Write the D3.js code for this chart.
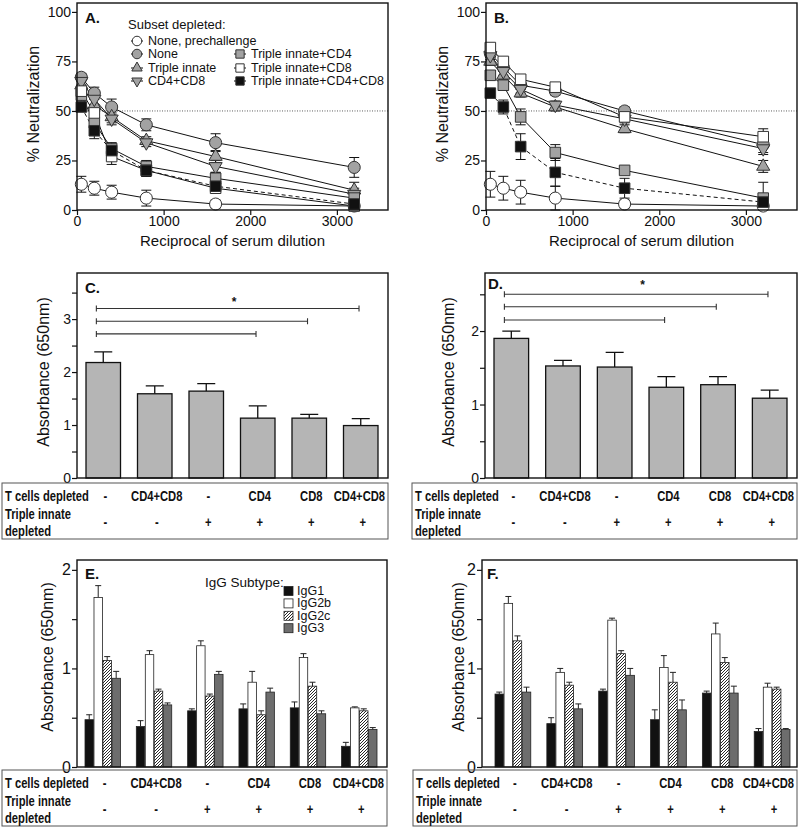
<!DOCTYPE html>
<html>
<head>
<meta charset="utf-8">
<script src="https://cdn.jsdelivr.net/npm/d3@7"></script>
<style>
  body { margin: 0; background: #fff; }
  svg { font-family: "Liberation Sans", Arial, sans-serif; }
  .tbl { font-family: "Liberation Sans", Arial, sans-serif; font-weight: bold; }
</style>
</head>
<body>
<div id="chart"></div>
<script>
// ---- data ----
const dilutions = [50, 200, 400, 800, 1600, 3200];
const seriesNames = ["None, prechallenge", "None", "Triple innate", "CD4+CD8",
                     "Triple innate+CD4", "Triple innate+CD8", "Triple innate+CD4+CD8"];

// panel A: % neutralization (mean, error)
const neutAMean = [
  [13, 11, 9, 6, 3, 2],
  [67, 59, 52, 43, 34, 21.5],
  [63, 53, 47, 35, 27, 10],
  [65, 56, 46, 34, 22, 8],
  [58, 44, 31, 22, 16, 6],
  [60, 49, 27, 20, 11, 2],
  [52, 40, 30, 20, 12, 3]
];
const neutAErr = [
  [4, 3.5, 3.5, 4, 2, 1],
  [2, 3, 4, 3, 4.5, 5],
  [3, 3, 3, 2, 3, 4],
  [3, 3, 3, 2, 3, 3],
  [3, 4, 3, 3, 3, 3],
  [3, 4, 4, 3, 2, 1],
  [2, 4, 3, 3, 2, 1]
];
// panel B
const neutBMean = [
  [13, 11, 9, 6, 3, 2],
  [79, 72, 63, 60, 50, 33],
  [75, 68, 59, 52, 41, 22],
  [78, 70, 61, 53, 46, 31],
  [68, 63, 47, 29, 20, 6],
  [82, 75, 66, 62, 47, 37],
  [59, 52, 32, 19, 11, 4]
];
const neutBErr = [
  [6.5, 6, 6, 6, 2, 1],
  [2, 2, 2, 2, 2, 4],
  [2, 2, 2, 2, 2, 3],
  [2, 2, 2, 2, 2, 3],
  [2, 2, 4, 4, 2, 8],
  [2, 2, 2, 2, 2, 4],
  [2, 3.5, 6.5, 7, 5, 2]
];

// groups (table rows)
const tCellsDepleted = ["-", "CD4+CD8", "-", "CD4", "CD8", "CD4+CD8"];
const innateDepleted = ["-", "-", "+", "+", "+", "+"];

// panels C, D: total absorbance
const absC = [2.18, 1.59, 1.64, 1.13, 1.13, 0.99];
const absCErr = [0.2, 0.15, 0.14, 0.23, 0.07, 0.13];
const absD = [1.9, 1.525, 1.51, 1.235, 1.27, 1.086];
const absDErr = [0.1, 0.075, 0.2, 0.145, 0.11, 0.11];
const sigTargets = [3, 4, 5];
const sigLevelsC = [2.72, 2.96, 3.2];
const sigLevelsD = [2.15, 2.33, 2.5];

// panels E, F: IgG subtypes, one row per group: IgG1, IgG2b, IgG2c, IgG3
const igSubtypes = ["IgG1", "IgG2b", "IgG2c", "IgG3"];
const igE = [
  [0.48, 1.72, 1.08, 0.90],
  [0.41, 1.14, 0.77, 0.63],
  [0.57, 1.23, 0.72, 0.94],
  [0.59, 0.86, 0.53, 0.76],
  [0.60, 1.11, 0.82, 0.54],
  [0.21, 0.60, 0.57, 0.38]
];
const igEErr = [
  [0.05, 0.12, 0.04, 0.07],
  [0.06, 0.04, 0.02, 0.02],
  [0.02, 0.05, 0.02, 0.03],
  [0.05, 0.11, 0.04, 0.04],
  [0.06, 0.04, 0.04, 0.03],
  [0.04, 0.01, 0.02, 0.02]
];
const igF = [
  [0.74, 1.66, 1.28, 0.76],
  [0.44, 0.96, 0.83, 0.59],
  [0.77, 1.49, 1.15, 0.93],
  [0.48, 1.01, 0.86, 0.58],
  [0.75, 1.35, 1.06, 0.75],
  [0.36, 0.81, 0.79, 0.38]
];
const igFErr = [
  [0.02, 0.07, 0.05, 0.05],
  [0.06, 0.04, 0.03, 0.05],
  [0.02, 0.02, 0.03, 0.07],
  [0.10, 0.12, 0.10, 0.10],
  [0.02, 0.11, 0.05, 0.07],
  [0.03, 0.04, 0.02, 0.01]
];

// ---- styling ----
const markerShape = ["circle", "circle", "up", "down", "square", "square", "square"];
const markerFill = ["#fff", "#a2a2a2", "#a2a2a2", "#a2a2a2", "#a2a2a2", "#fff", "#111"];
const lineDash = [null, null, null, null, null, null, "4,3"];
const igFill = ["#111", "#fff", "url(#hatch)", "#6d6d6d"];

const svg = d3.select("#chart").append("svg")
  .attr("width", 800).attr("height", 829);

const defs = svg.append("defs");
const hatch = defs.append("pattern")
  .attr("id", "hatch").attr("patternUnits", "userSpaceOnUse")
  .attr("width", 3).attr("height", 3);
hatch.append("rect").attr("width", 3).attr("height", 3).attr("fill", "#fff");
hatch.append("path")
  .attr("d", "M-1,1 l2,-2 M0,3 l3,-3 M2,4 l2,-2")
  .attr("stroke", "#111").attr("stroke-width", 0.9);

function symbolPath(shape, k) {
  if (shape === "circle") return d3.symbol(d3.symbolCircle, 115 * k)();
  if (shape === "square") return d3.symbol(d3.symbolSquare, 112 * k)();
  return d3.symbol(d3.symbolTriangle, 75 * k)();
}

function drawMarker(g, shape, fill, x, y, k = 1) {
  g.append("path")
    .attr("d", symbolPath(shape, k))
    .attr("transform", `translate(${x},${y})` + (shape === "down" ? " rotate(180)" : ""))
    .attr("fill", fill).attr("stroke", "#333").attr("stroke-width", 1);
}

function drawFrame(x0, y0, x1, y1) {
  svg.append("rect")
    .attr("x", x0).attr("y", y0).attr("width", x1 - x0).attr("height", y1 - y0)
    .attr("fill", "none").attr("stroke", "#111").attr("stroke-width", 1.4);
}

function yAxis(y, x0, ticks, fontSize) {
  const g = svg.append("g")
    .attr("transform", `translate(${x0},0)`)
    .call(d3.axisLeft(y).tickValues(ticks).tickSize(5).tickPadding(1)
      .tickFormat(d => Number.isInteger(d) ? d : ""));
  g.select(".domain").remove();
  g.selectAll("line").attr("stroke", "#111").attr("stroke-width", 1.2);
  g.selectAll("text").attr("font-size", fontSize).attr("fill", "#111")
    .attr("font-family", "Liberation Sans, Arial, sans-serif");
}

function yLabel(text, x, y, size) {
  svg.append("text")
    .attr("transform", `translate(${x},${y}) rotate(-90)`)
    .attr("text-anchor", "middle").attr("dominant-baseline", "central")
    .attr("font-size", size).attr("fill", "#111")
    .text(text);
}

function panelLabel(text, x, y) {
  svg.append("text").attr("x", x).attr("y", y)
    .attr("dominant-baseline", "central")
    .attr("font-size", 15).attr("font-weight", "bold").attr("fill", "#111")
    .text(text);
}

// ---- line panels A and B ----
function linePanel(box, means, errs, label, labelX, yLabX) {
  const x = d3.scaleLinear().domain([0, 3590]).range([box.left, box.right]);
  const y = d3.scaleLinear().domain([0, 104.5]).range([box.bottom, box.top]);

  // 50% reference line
  svg.append("line")
    .attr("x1", box.left).attr("x2", box.right)
    .attr("y1", y(50)).attr("y2", y(50))
    .attr("stroke", "#333").attr("stroke-width", 0.8).attr("stroke-dasharray", "1,1.5");

  const g = svg.append("g");
  const line = d3.line().x((d, i) => x(dilutions[i])).y(d => y(d));

  means.forEach((m, s) => {
    g.append("path").attr("d", line(m))
      .attr("fill", "none").attr("stroke", "#111").attr("stroke-width", 1)
      .attr("stroke-dasharray", lineDash[s]);
  });
  means.forEach((m, s) => {
    m.forEach((v, i) => {
      const cx = x(dilutions[i]);
      const lo = y(Math.max(0, v - errs[s][i])), hi = y(v + errs[s][i]);
      g.append("path")
        .attr("d", `M${cx},${lo}V${hi}M${cx - 5},${lo}H${cx + 5}M${cx - 5},${hi}H${cx + 5}`)
        .attr("stroke", "#111").attr("stroke-width", 1).attr("fill", "none");
    });
  });
  means.forEach((m, s) => {
    m.forEach((v, i) => drawMarker(g, markerShape[s], markerFill[s], x(dilutions[i]), y(v)));
  });

  drawFrame(box.left, box.top, box.right, box.bottom);

  yAxis(y, box.left, [0, 25, 50, 75, 100], 14);
  const gx = svg.append("g")
    .attr("transform", `translate(0,${box.bottom})`)
    .call(d3.axisBottom(x).tickValues([0, 1000, 2000, 3000]).tickSize(5).tickPadding(1)
      .tickFormat(d3.format("d")));
  gx.select(".domain").remove();
  gx.selectAll("line").attr("stroke", "#111").attr("stroke-width", 1.2);
  gx.selectAll("text").attr("font-size", 14).attr("fill", "#111")
    .attr("font-family", "Liberation Sans, Arial, sans-serif");

  svg.append("text")
    .attr("x", (box.left + box.right) / 2).attr("y", 240)
    .attr("text-anchor", "middle").attr("dominant-baseline", "central")
    .attr("font-size", 15).attr("fill", "#111")
    .text("Reciprocal of serum dilution");
  yLabel("% Neutralization", yLabX, 104, 16);
  panelLabel(label, labelX, 17);
}

linePanel({left: 77, right: 388, top: 3, bottom: 210}, neutAMean, neutAErr, "A.", 85, 33);
linePanel({left: 486, right: 797, top: 3, bottom: 210}, neutBMean, neutBErr, "B.", 494, 442);

// legend in A
svg.append("text").attr("x", 128).attr("y", 24)
  .attr("dominant-baseline", "central").attr("font-size", 13).attr("fill", "#111")
  .text("Subset depleted:");
const legPos = [[137, 41], [137, 54], [137, 68], [137, 81], [240, 54], [240, 68], [240, 81]];
const legG = svg.append("g");
seriesNames.forEach((name, s) => {
  const [lx, ly] = legPos[s];
  legG.append("line").attr("x1", lx - 6).attr("x2", lx + 6).attr("y1", ly).attr("y2", ly)
    .attr("stroke", "#111").attr("stroke-width", 1);
  drawMarker(legG, markerShape[s], markerFill[s], lx, ly, 0.62);
  legG.append("text").attr("x", lx + 11).attr("y", ly)
    .attr("dominant-baseline", "central").attr("font-size", 12.5).attr("fill", "#111")
    .text(name);
});

// ---- table below bar panels ----
function tText(g, x, y, anchor, text, maxRight) {
  const t = g.append("text")
    .attr("transform", `translate(${x},${y}) scale(0.8,1)`)
    .attr("text-anchor", anchor).attr("dominant-baseline", "central")
    .text(text);
  // keep a centred cell inside the box
  if (maxRight !== undefined) {
    const half = t.node().getComputedTextLength() * 0.8 / 2;
    if (x + half > maxRight) {
      t.attr("transform", `translate(${maxRight - half},${y}) scale(0.8,1)`);
    }
  }
}

function table(x0, x1, top, xBand) {
  svg.append("rect").attr("x", x0).attr("y", top).attr("width", x1 - x0).attr("height", 56)
    .attr("fill", "none").attr("stroke", "#555").attr("stroke-width", 1);
  const g = svg.append("g").attr("class", "tbl").attr("fill", "#111").attr("font-size", 14);
  tText(g, x0 + 3, top + 14, "start", "T cells depleted");
  tText(g, x0 + 3, top + 32, "start", "Triple innate");
  tText(g, x0 + 3, top + 49, "start", "depleted");
  tCellsDepleted.forEach((t, i) => {
    const cx = xBand(i) + xBand.bandwidth() / 2 + 2;
    tText(g, cx, top + 14, "middle", t, x1 - 3);
    tText(g, cx, top + 40, "middle", innateDepleted[i], x1 - 3);
  });
}

// ---- bar panels C and D ----
function barPanel(box, vals, errs, yMax, ticks, sigLevels, starY, label, labelPos, yLabX, tableX0) {
  const idx = d3.range(vals.length);
  const x = d3.scaleBand().domain(idx).range([box.barStart, box.barEnd]).paddingInner(0.33).paddingOuter(0);
  const y = d3.scaleLinear().domain([0, yMax]).range([box.bottom, box.top]);
  const bw = x.bandwidth();

  const g = svg.append("g");
  g.selectAll("path.err").data(idx).join("path").attr("class", "err")
    .attr("d", i => {
      const cx = x(i) + bw / 2, t = y(vals[i] + errs[i]);
      return `M${cx},${y(vals[i])}V${t}M${cx - 9},${t}H${cx + 9}`;
    })
    .attr("stroke", "#111").attr("stroke-width", 1.3).attr("fill", "none");
  g.selectAll("rect").data(idx).join("rect")
    .attr("x", i => x(i)).attr("width", bw)
    .attr("y", i => y(vals[i])).attr("height", i => y(0) - y(vals[i]))
    .attr("fill", "#b5b5b5").attr("stroke", "#111").attr("stroke-width", 1.3);

  // significance brackets
  sigTargets.forEach((k, j) => {
    const yy = y(sigLevels[j]);
    const xa = x(0) + bw * 0.3, xb = x(k) + bw * 0.45;
    svg.append("path")
      .attr("d", `M${xa},${yy}H${xb}M${xa},${yy - 3}V${yy + 3}M${xb},${yy - 3}V${yy + 3}`)
      .attr("stroke", "#333").attr("stroke-width", 1.1).attr("fill", "none");
  });
  svg.append("text").attr("x", (x(0) + x(5) + bw) / 2 + 2).attr("y", y(starY))
    .attr("text-anchor", "middle").attr("dominant-baseline", "central")
    .attr("font-size", 12).attr("font-weight", "bold").attr("fill", "#111").text("*");

  drawFrame(box.left, box.top, box.right, box.bottom);
  yAxis(y, box.left, ticks, 14);
  yLabel("Absorbance (650nm)", yLabX, 372, 16);
  panelLabel(label, labelPos[0], labelPos[1]);
  table(tableX0, box.right, 483, x);
}

barPanel({left: 77, right: 388, top: 273, bottom: 478, barStart: 86, barEnd: 378},
  absC, absCErr, 3.87, d3.range(0, 3.51, 0.5), sigLevelsC, 3.33, "C.", [85, 287], 43, 2);
barPanel({left: 485, right: 797, top: 273, bottom: 478, barStart: 494, barEnd: 787},
  absD, absDErr, 2.79, d3.range(0, 2.51, 0.5), sigLevelsD, 2.62, "D.", [488, 283], 448, 412);

// ---- grouped IgG panels E and F ----
function igPanel(box, vals, errs, label, labelPos, yLabX, tableX0, legend) {
  const idx = d3.range(vals.length);
  const x = d3.scaleBand().domain(idx).range([box.barStart, box.barEnd]).paddingInner(0.31).paddingOuter(0);
  const xs = d3.scaleBand().domain(d3.range(igSubtypes.length)).range([0, x.bandwidth()]).paddingInner(0.06);
  const y = d3.scaleLinear().domain([0, 2.1]).range([box.bottom, box.top]);
  const bw = xs.bandwidth();

  const g = svg.append("g");
  idx.forEach(i => {
    igSubtypes.forEach((sub, k) => {
      const bx = x(i) + xs(k), v = vals[i][k], t = y(v + errs[i][k]);
      g.append("path")
        .attr("d", `M${bx + bw / 2},${y(v)}V${t}M${bx + bw / 2 - 3},${t}H${bx + bw / 2 + 3}`)
        .attr("stroke", "#222").attr("stroke-width", 1).attr("fill", "none");
      g.append("rect").attr("x", bx).attr("width", bw)
        .attr("y", y(v)).attr("height", y(0) - y(v))
        .attr("fill", igFill[k]).attr("stroke", "#222").attr("stroke-width", 0.8);
    });
  });

  drawFrame(box.left, box.top, box.right, box.bottom);
  yAxis(y, box.left, [0, 0.5, 1, 1.5, 2], 16);
  yLabel("Absorbance (650nm)", yLabX, 657, 16);
  panelLabel(label, labelPos[0], labelPos[1]);
  table(tableX0, box.right, 770, x);

  if (legend) {
    svg.append("text").attr("x", 205).attr("y", 582)
      .attr("dominant-baseline", "central").attr("font-size", 13.5).attr("fill", "#111")
      .text("IgG Subtype:");
    igSubtypes.forEach((sub, k) => {
      const ly = 591 + k * 12.4;
      svg.append("rect").attr("x", 284).attr("y", ly - 4.5).attr("width", 9).attr("height", 9)
        .attr("fill", igFill[k]).attr("stroke", "#222").attr("stroke-width", 0.8);
      svg.append("text").attr("x", 297).attr("y", ly)
        .attr("dominant-baseline", "central").attr("font-size", 12.5).attr("fill", "#111")
        .text(sub);
    });
  }
}

igPanel({left: 77, right: 387, top: 560, bottom: 767, barStart: 85, barEnd: 377},
  igE, igEErr, "E.", [85, 573], 47, 2, true);
igPanel({left: 482, right: 797, top: 560, bottom: 767, barStart: 495, barEnd: 790},
  igF, igFErr, "F.", [487, 573], 458, 413, false);
</script>
</body>
</html>
